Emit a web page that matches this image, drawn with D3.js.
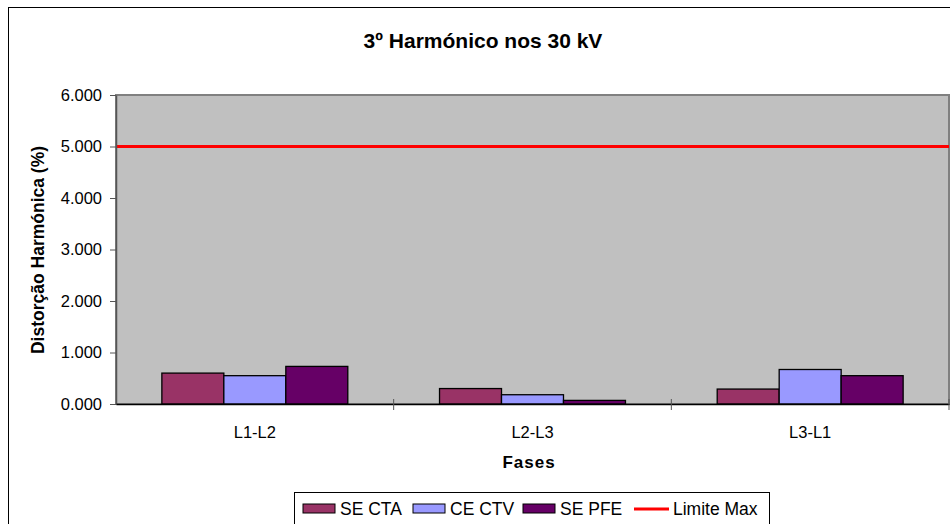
<!DOCTYPE html>
<html>
<head>
<meta charset="utf-8">
<script src="https://cdnjs.cloudflare.com/ajax/libs/d3/7.8.5/d3.min.js"></script>
<style>
  body { margin: 0; background: #fff; }
  svg { font-family: "Liberation Sans", Arial, sans-serif; display: block; }
</style>
</head>
<body>
<div id="chart"></div>
<script>
// chart data
const categories = ["L1-L2", "L2-L3", "L3-L1"];
const seriesNames = ["SE CTA", "CE CTV", "SE PFE"];
const seCta = [0.60, 0.30, 0.29];
const ceCtv = [0.55, 0.18, 0.67];
const sePfe = [0.73, 0.07, 0.55];
const limitValue = 5;
const yTicks = [0, 1, 2, 3, 4, 5, 6];

const colors = ["#993366", "#9999FF", "#660066"];
const seriesValues = [seCta, ceCtv, sePfe];

const width = 950, height = 524;
const plot = { left: 116, right: 949, top: 95, bottom: 404 };

const svg = d3.select("#chart").append("svg")
    .attr("width", width)
    .attr("height", height);

// outer chart border
svg.append("rect")
    .attr("x", 8.5).attr("y", 7.5)
    .attr("width", 960).attr("height", 540)
    .attr("fill", "#fff")
    .attr("stroke", "#000")
    .attr("stroke-width", 1);

svg.append("text")
    .attr("x", 483).attr("y", 48)
    .attr("text-anchor", "middle")
    .style("font-size", "21px")
    .style("font-weight", "bold")
    .text("3º Harmónico nos 30 kV");

const x = d3.scaleBand()
    .domain(categories)
    .range([plot.left, plot.right]);

const xInner = d3.scaleBand()
    .domain(seriesNames)
    .range([0, x.bandwidth()])
    .paddingOuter(0.74);

const y = d3.scaleLinear()
    .domain([0, 6])
    .range([plot.bottom, plot.top]);

// plot area
svg.append("rect")
    .attr("x", plot.left).attr("y", plot.top)
    .attr("width", plot.right - plot.left)
    .attr("height", plot.bottom - plot.top)
    .attr("fill", "#C0C0C0")
    .attr("stroke", "#808080")
    .attr("stroke-width", 2);

// bars
const data = categories.map((c, i) => ({
    category: c,
    values: seriesNames.map((s, j) => ({ key: s, value: seriesValues[j][i], color: colors[j] }))
}));

svg.append("g")
    .selectAll("g")
    .data(data)
    .enter()
    .append("g")
    .attr("transform", d => `translate(${x(d.category)},0)`)
    .selectAll("rect")
    .data(d => d.values)
    .enter()
    .append("rect")
    .attr("x", d => xInner(d.key))
    .attr("y", d => y(d.value))
    .attr("width", xInner.bandwidth())
    .attr("height", d => y(0) - y(d.value))
    .attr("fill", d => d.color)
    .attr("stroke", "#000")
    .attr("stroke-width", 1.3);

// limit line
svg.append("line")
    .attr("x1", plot.left).attr("x2", plot.right)
    .attr("y1", y(limitValue)).attr("y2", y(limitValue))
    .attr("stroke", "#FF0000")
    .attr("stroke-width", 3);

// y axis
const yAxis = svg.append("g")
    .attr("transform", `translate(${plot.left},0)`)
    .call(d3.axisLeft(y).tickValues(yTicks).tickSize(6).tickSizeOuter(0)
        .tickFormat(d3.format(".3f")));
yAxis.select(".domain").attr("stroke", "#555").attr("stroke-width", 1.5);
yAxis.selectAll(".tick line").attr("stroke", "#555");
yAxis.selectAll(".tick text")
    .attr("x", -14)
    .style("font-size", "16.5px")
    .style("font-family", "Liberation Sans, Arial, sans-serif")
    .attr("fill", "#000");

// x axis
const xAxis = svg.append("g")
    .attr("transform", `translate(0,${plot.bottom})`)
    .call(d3.axisBottom(x).tickSize(0).tickSizeOuter(0));
xAxis.select(".domain").attr("stroke", "#000").attr("stroke-width", 1.5);
xAxis.selectAll(".tick text")
    .attr("y", 22)
    .style("font-size", "16.5px")
    .style("font-family", "Liberation Sans, Arial, sans-serif")
    .attr("fill", "#000");

// boundary ticks between categories
svg.append("g")
    .selectAll("line")
    .data(categories)
    .enter()
    .append("line")
    .attr("x1", d => x(d) + x.bandwidth())
    .attr("x2", d => x(d) + x.bandwidth())
    .attr("y1", plot.bottom - 5)
    .attr("y2", plot.bottom + 6)
    .attr("stroke", "#555")
    .attr("stroke-width", 1);

// axis titles
svg.append("text")
    .attr("transform", `translate(44,250) rotate(-90)`)
    .attr("text-anchor", "middle")
    .style("font-size", "17.5px")
    .style("font-weight", "bold")
    .text("Distorção Harmónica (%)");

svg.append("text")
    .attr("x", 529).attr("y", 468)
    .attr("text-anchor", "middle")
    .style("font-size", "17px")
    .style("font-weight", "bold")
    .style("letter-spacing", "1px")
    .text("Fases");

// legend
const legend = svg.append("g");
legend.append("rect")
    .attr("x", 294.5).attr("y", 492.5)
    .attr("width", 475).attr("height", 40)
    .attr("fill", "#fff")
    .attr("stroke", "#000");

const legendItems = [
    { label: "SE CTA", color: colors[0], type: "rect", x: 303 },
    { label: "CE CTV", color: colors[1], type: "rect", x: 413 },
    { label: "SE PFE", color: colors[2], type: "rect", x: 523 },
    { label: "Limite Max", color: "#FF0000", type: "line", x: 634 }
];

legendItems.forEach(item => {
    const g = legend.append("g").attr("transform", `translate(${item.x},0)`);
    if (item.type === "rect") {
        g.append("rect")
            .attr("x", 0).attr("y", 504)
            .attr("width", 32).attr("height", 9)
            .attr("fill", item.color)
            .attr("stroke", "#000");
    } else {
        g.append("line")
            .attr("x1", 0).attr("x2", 35)
            .attr("y1", 509).attr("y2", 509)
            .attr("stroke", item.color)
            .attr("stroke-width", 3);
    }
    g.append("text")
        .attr("x", item.type === "rect" ? 37 : 39)
        .attr("y", 515)
        .style("font-size", "17.5px")
        .text(item.label);
});
</script>
</body>
</html>
